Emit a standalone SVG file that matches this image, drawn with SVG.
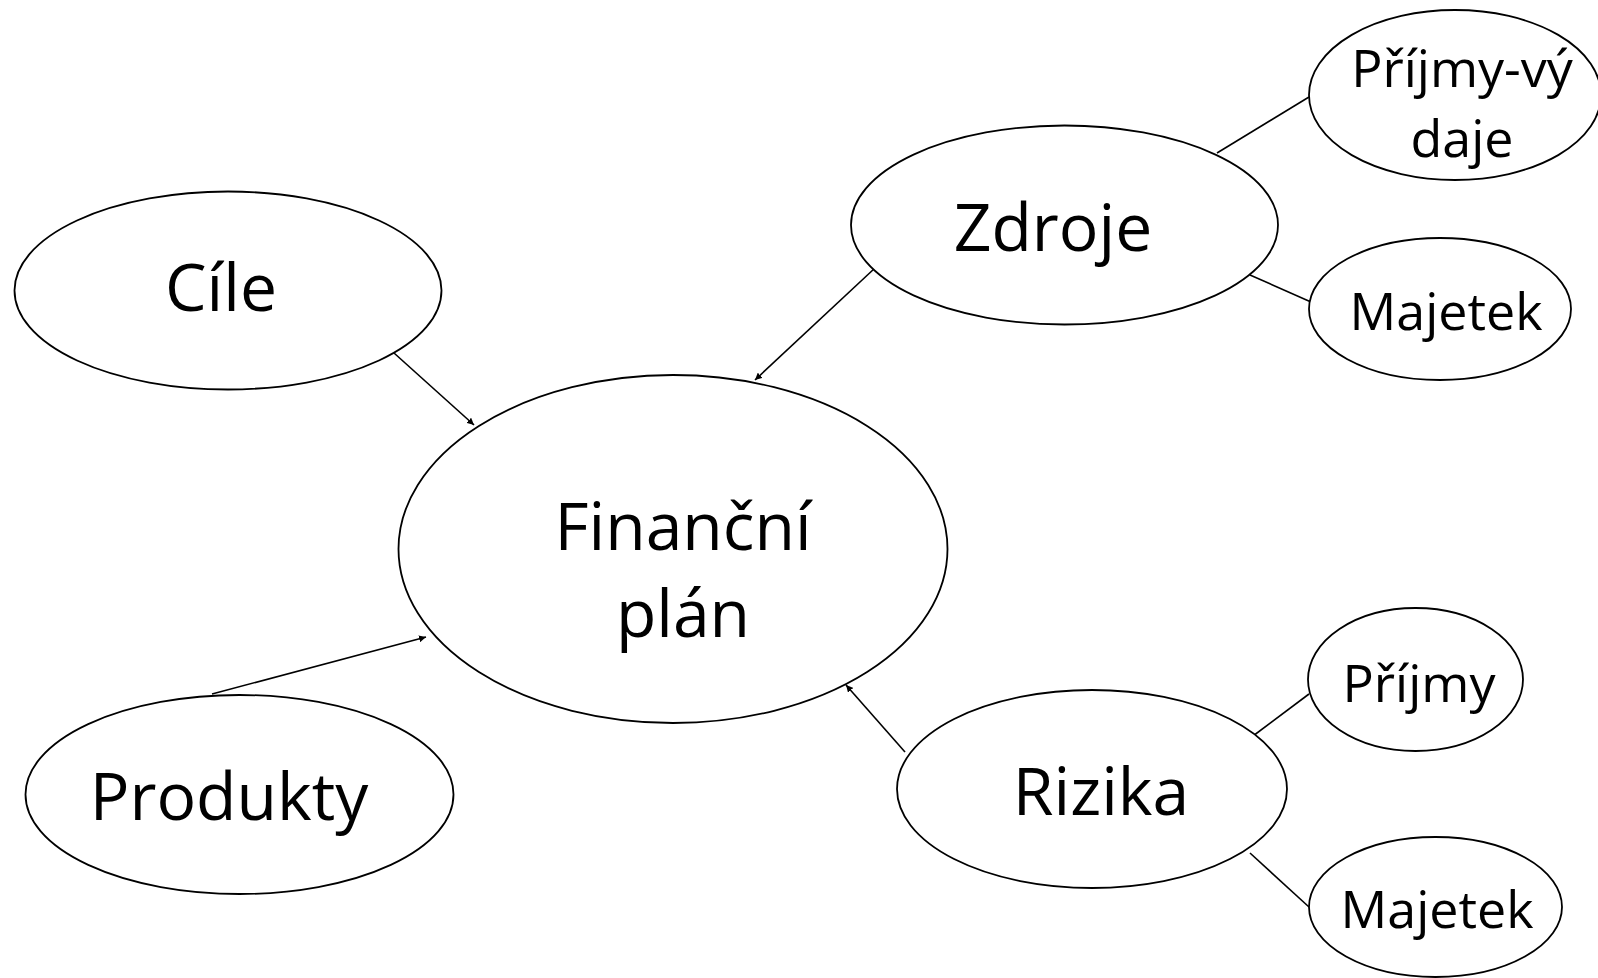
<svg xmlns="http://www.w3.org/2000/svg" width="1598" height="978" viewBox="0 0 1598 978">
<style>
.n{fill:#fff;stroke:#000;stroke-width:1.8}
.t{font-family:"Open Sans","Noto Sans",sans-serif;text-anchor:middle;fill:#000}
.L{font-size:66px}
.S{font-size:52px}
.c{stroke:#000;stroke-width:1.6;fill:none}
</style>
<defs>
<marker id="ah" viewBox="0 0 10 10" refX="10" refY="5" markerWidth="7" markerHeight="7" markerUnits="userSpaceOnUse" orient="auto">
<path d="M0,0 L10,5 L0,10 z" fill="#000"/>
</marker>
</defs>
<rect width="1598" height="978" fill="#fff"/>
<g id="connectors">
<line class="c" x1="394" y1="353" x2="474" y2="425" marker-end="url(#ah)"/>
<line class="c" x1="875" y1="268" x2="755" y2="380" marker-end="url(#ah)"/>
<line class="c" x1="212" y1="694" x2="426" y2="637" marker-end="url(#ah)"/>
<line class="c" x1="905" y1="752" x2="846" y2="685" marker-end="url(#ah)"/>
<line class="c" x1="1217" y1="153" x2="1309" y2="97"/>
<line class="c" x1="1250" y1="275" x2="1311" y2="302"/>
<line class="c" x1="1249" y1="739" x2="1309" y2="694"/>
<line class="c" x1="1250" y1="853" x2="1309" y2="907"/>
</g>
<g id="cile">
<ellipse class="n" cx="228" cy="290.5" rx="213.5" ry="99"/>
<text class="t L" x="221" y="311">Cíle</text>
</g>
<g id="financni-plan">
<ellipse class="n" cx="673" cy="549" rx="274.5" ry="174"/>
<text class="t L" x="683" y="550">Finanční</text>
<text class="t L" x="683" y="637">plán</text>
</g>
<g id="zdroje">
<ellipse class="n" cx="1064.5" cy="225" rx="213.5" ry="99.5"/>
<text class="t L" x="1053" y="251">Zdroje</text>
</g>
<g id="produkty">
<ellipse class="n" cx="239.5" cy="794.5" rx="214" ry="99.5"/>
<text class="t L" x="229" y="820">Produkty</text>
</g>
<g id="rizika">
<ellipse class="n" cx="1092" cy="789" rx="195" ry="99"/>
<text class="t L" x="1101" y="815">Rizika</text>
</g>
<g id="prijmy-vydaje">
<ellipse class="n" cx="1455" cy="95" rx="146" ry="85"/>
<text class="t S" x="1462" y="87">Příjmy-vý</text>
<text class="t S" x="1462" y="157">daje</text>
</g>
<g id="majetek-zdroje">
<ellipse class="n" cx="1440" cy="309" rx="131" ry="71"/>
<text class="t S" x="1446" y="330">Majetek</text>
</g>
<g id="prijmy">
<ellipse class="n" cx="1415.5" cy="679.5" rx="107.5" ry="71.5"/>
<text class="t S" x="1419" y="702">Příjmy</text>
</g>
<g id="majetek-rizika">
<ellipse class="n" cx="1435.5" cy="907" rx="126.5" ry="70"/>
<text class="t S" x="1437" y="928">Majetek</text>
</g>
</svg>
